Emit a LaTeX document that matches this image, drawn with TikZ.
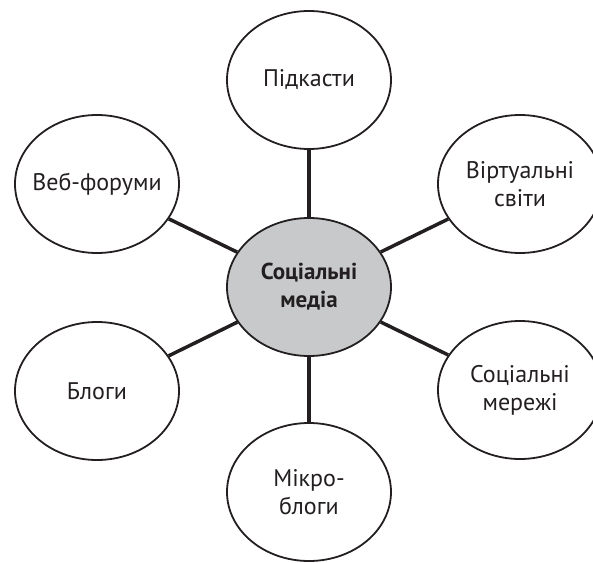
\documentclass[tikz,border=0pt]{standalone}
\usepackage{fontspec}
\setmainfont{PT Sans}
\usetikzlibrary{positioning}
\usetikzlibrary{shapes.geometric}
\definecolor{inkgray}{HTML}{231F20}
\definecolor{hubgray}{HTML}{C8C9CB}

\begin{document}
\begin{tikzpicture}[
    x = 1pt, y = 1pt,
    node distance = 207pt,
    line width = 3.5pt,
    draw = inkgray,
    ]

    \tikzstyle{topic}=[
    ellipse,
    draw = inkgray,
    line width = 1.8pt,
    fill = white,
    minimum width = 164pt,
    minimum height = 138pt,
    inner xsep = -30pt,
    inner ysep = 0pt,
    align = center,
    text = inkgray,
    font = \fontsize{24}{28}\selectfont,
    ]
    \tikzstyle{core}=[
    topic,
    fill = hubgray,
    font = \fontsize{23}{28}\selectfont\bfseries,
    ]

    \useasboundingbox (-309,-275) rectangle (284,287);

    \node[core] (media) {Соціальні\\медіа};
    \node[topic] (podcasts) [above of=media] {Підкасти};
    \node[topic] (micro) [below of=media, yshift=2pt] {Мікро-\\блоги};
    \node[topic] (forums) [left of=media, xshift=-5pt, yshift=103pt] {Веб-форуми};
    \node[topic] (blogs) [left of=media, xshift=-5pt, yshift=-104pt] {Блоги};
    \node[topic] (worlds) [right of=media, xshift=4pt, yshift=103pt] {Віртуальні\\світи};
    \node[topic] (networks) [right of=media, xshift=4pt, yshift=-103pt] {Соціальні\\мережі};

    \path[draw=inkgray] (media) edge (podcasts);
    \path[draw=inkgray] (media) edge (micro);
    \path[draw=inkgray] (media) edge (forums);
    \path[draw=inkgray] (media) edge (blogs);
    \path[draw=inkgray] (media) edge (worlds);
    \path[draw=inkgray] (media) edge (networks);
  \end{tikzpicture}
\end{document}
